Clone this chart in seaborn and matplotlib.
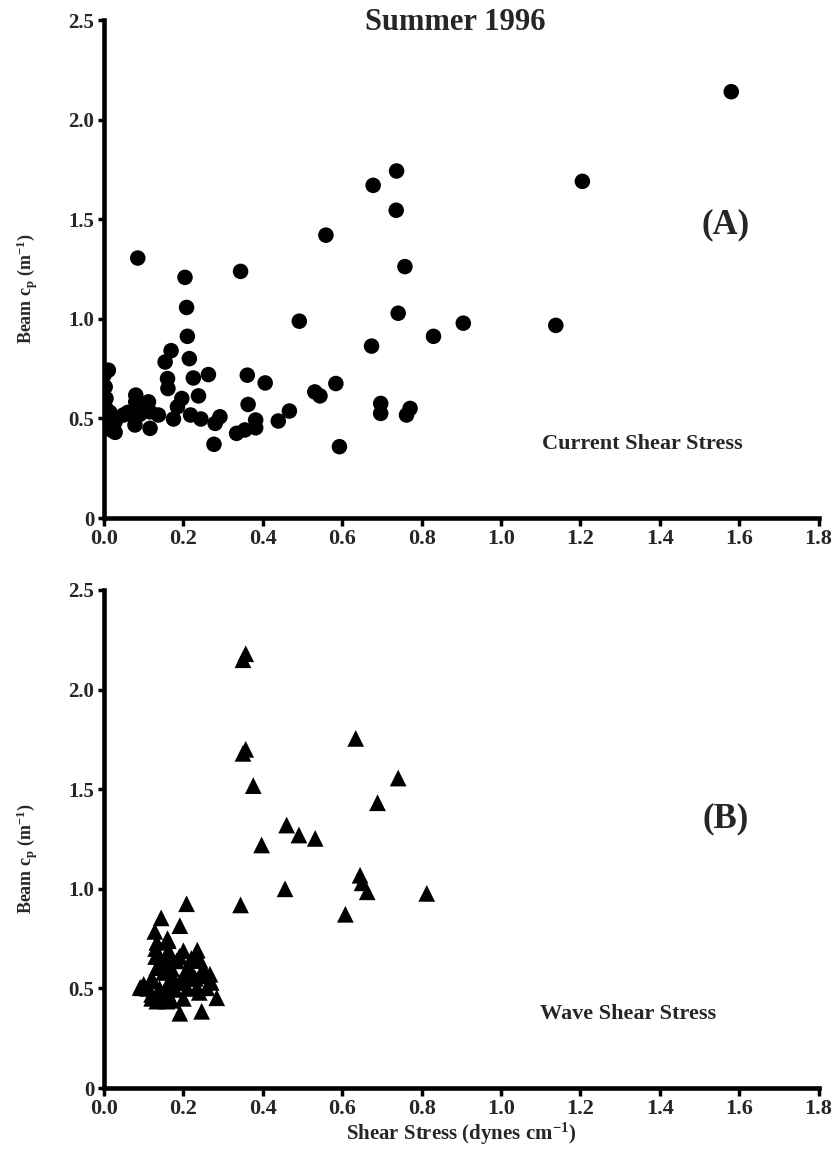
import numpy as np
import pandas as pd
import matplotlib
matplotlib.use("Agg")
import matplotlib.pyplot as plt
import seaborn as sns

# ---------------- data ----------------
current_x = [1.58, 1.205, 1.138, 0.905, 0.83,
             0.737, 0.678, 0.736, 0.559, 0.085, 0.344, 0.204, 0.758, 0.208, 0.741,
             0.492, 0.210, 0.674, 0.169, 0.154, 0.215, 0.225, 0.263, 0.361, 0.406,
             0.584, 0.531, 0.544, 0.238, 0.160, 0.161, 0.196, 0.185, 0.175, 0.218,
             0.244, 0.277, 0.292, 0.280, 0.363, 0.382, 0.382, 0.355, 0.334, 0.439,
             0.467, 0.593, 0.697, 0.697, 0.771, 0.762,
             0.080, 0.080, 0.099, 0.112, 0.116, 0.116, 0.137, 0.078, 0.074, 0.049,
             0.028, 0.028, 0.060, 0.090,
             0.011, 0.000, 0.003, 0.005, 0.005, 0.000, 0.003, 0.010, 0.015, 0.020, 0.000]
current_y = [2.14, 1.69, 0.967, 0.978, 0.912,
             1.742, 1.670, 1.545, 1.420, 1.305, 1.238, 1.208, 1.262, 1.057, 1.028,
             0.988, 0.912, 0.863, 0.840, 0.783, 0.800, 0.703, 0.720, 0.717, 0.678,
             0.675, 0.633, 0.613, 0.613, 0.700, 0.650, 0.600, 0.558, 0.497, 0.517,
             0.497, 0.370, 0.508, 0.475, 0.570, 0.492, 0.453, 0.442, 0.425, 0.487,
             0.537, 0.358, 0.575, 0.525, 0.550, 0.517,
             0.617, 0.583, 0.567, 0.583, 0.533, 0.450, 0.517, 0.467, 0.517, 0.517,
             0.430, 0.483, 0.530, 0.520,
             0.742, 0.717, 0.658, 0.600, 0.550, 0.517, 0.483, 0.500, 0.530, 0.440, 0.570]

wave_x = [0.357, 0.350, 0.357, 0.350, 0.376, 0.634, 0.741, 0.689, 0.460, 0.491,
          0.532, 0.397, 0.645, 0.650, 0.663, 0.813, 0.456, 0.344, 0.608, 0.208,
          0.144, 0.191, 0.128, 0.162, 0.133, 0.162, 0.200, 0.235, 0.154, 0.242,
          0.183, 0.133, 0.217, 0.267, 0.200, 0.250, 0.171, 0.124, 0.095, 0.141,
          0.179, 0.234, 0.259, 0.284, 0.133, 0.158, 0.191, 0.246, 0.091, 0.110,
          0.120, 0.150, 0.140, 0.150, 0.160, 0.190, 0.220, 0.130, 0.170, 0.230,
          0.100, 0.120, 0.140, 0.160, 0.180, 0.210, 0.230, 0.250, 0.220, 0.190,
          0.170, 0.150, 0.130, 0.160, 0.210, 0.270, 0.120, 0.170, 0.200, 0.240]
wave_y = [2.180, 2.150, 1.700, 1.680, 1.518, 1.755, 1.556, 1.432, 1.320, 1.270,
          1.253, 1.220, 1.068, 1.030, 0.985, 0.977, 1.000, 0.919, 0.872, 0.925,
          0.854, 0.815, 0.786, 0.739, 0.731, 0.689, 0.689, 0.692, 0.621, 0.641,
          0.638, 0.604, 0.596, 0.571, 0.562, 0.562, 0.545, 0.537, 0.503, 0.487,
          0.495, 0.503, 0.503, 0.453, 0.436, 0.436, 0.375, 0.385, 0.505, 0.500,
          0.470, 0.470, 0.660, 0.580, 0.520, 0.530, 0.550, 0.700, 0.660, 0.640,
          0.520, 0.550, 0.500, 0.480, 0.530, 0.500, 0.550, 0.600, 0.650, 0.660,
          0.600, 0.620, 0.660, 0.750, 0.600, 0.530, 0.450, 0.440, 0.450, 0.480]

x_ticks = [0.0, 0.2, 0.4, 0.6, 0.8, 1.0, 1.2, 1.4, 1.6, 1.8]
x_tick_labels = ["0.0", "0.2", "0.4", "0.6", "0.8", "1.0", "1.2", "1.4", "1.6", "1.8"]
y_ticks = [0, 0.5, 1.0, 1.5, 2.0, 2.5]
y_tick_labels = ["0", "0.5", "1.0", "1.5", "2.0", "2.5"]

df_cur = pd.DataFrame({"stress": current_x, "beam": current_y})
df_wave = pd.DataFrame({"stress": wave_x, "beam": wave_y})

# ---------------- style ----------------
sns.set_theme(style="white")
plt.rcParams["font.family"] = ["Liberation Serif", "DejaVu Serif"]
plt.rcParams["font.weight"] = "bold"
plt.rcParams["mathtext.fontset"] = "custom"
plt.rcParams["mathtext.rm"] = "Liberation Serif:bold"
plt.rcParams["mathtext.bf"] = "Liberation Serif:bold"
plt.rcParams["mathtext.it"] = "Liberation Serif:bold"
plt.rcParams["mathtext.default"] = "bf"

W, H = 834, 1154
fig = plt.figure(figsize=(W / 100, H / 100), dpi=100)

def px_axes(left, top, right, bottom):
    return fig.add_axes([left / W, 1 - bottom / H, (right - left) / W, (bottom - top) / H])

axA = px_axes(104, 20, 818.6, 518)
axB = px_axes(104, 590, 818.6, 1088)

sns.scatterplot(data=df_cur, x="stress", y="beam", ax=axA, marker="o", s=125,
                color="black", edgecolor="none", linewidth=0)
sns.scatterplot(data=df_wave, x="stress", y="beam", ax=axB, marker="^", s=145,
                color="black", edgecolor="none", linewidth=0)

for ax in (axA, axB):
    ax.set_xlim(0, 1.8)
    ax.set_ylim(0, 2.5)
    ax.set_xticks(x_ticks)
    ax.set_xticklabels(x_tick_labels, fontsize=16, fontweight="bold")
    ax.set_yticks(y_ticks)
    ax.set_yticklabels(y_tick_labels, fontsize=15, fontweight="bold")
    for s in ("top", "right"):
        ax.spines[s].set_visible(False)
    for s in ("left", "bottom"):
        ax.spines[s].set_color("black")
        ax.spines[s].set_linewidth(3.3)
    ax.tick_params(axis="x", direction="out", length=6, width=2.5, color="black",
                   bottom=True, pad=2)
    ax.tick_params(axis="y", direction="out", length=4, width=2.5, color="black",
                   left=True, pad=3)
    ax.set_ylabel("Beam c$_p$ (m$^{-1}$)", fontsize=13, fontweight="bold")
    ax.yaxis.set_label_coords(-0.09, 0.46)
    ax.set_xlabel("")
    ax.patch.set_alpha(0)

axB.set_xlabel("Shear Stress (dynes cm$^{-1}$)", fontsize=15, fontweight="bold", labelpad=1)

axA.text(1.565, 1.47, "(A)", fontsize=25, fontweight="bold", ha="center", va="center")
axA.text(1.356, 0.37, "Current Shear Stress", fontsize=16, fontweight="bold",
         ha="center", va="center")
axB.text(1.565, 1.35, "(B)", fontsize=25, fontweight="bold", ha="center", va="center")
axB.text(1.32, 0.37, "Wave Shear Stress", fontsize=16, fontweight="bold",
         ha="center", va="center")

fig.text(455 / W, 1 - 22 / H, "Summer 1996", fontsize=22, fontweight="bold",
         ha="center", va="center")

fig.savefig("out.png", dpi=100)
